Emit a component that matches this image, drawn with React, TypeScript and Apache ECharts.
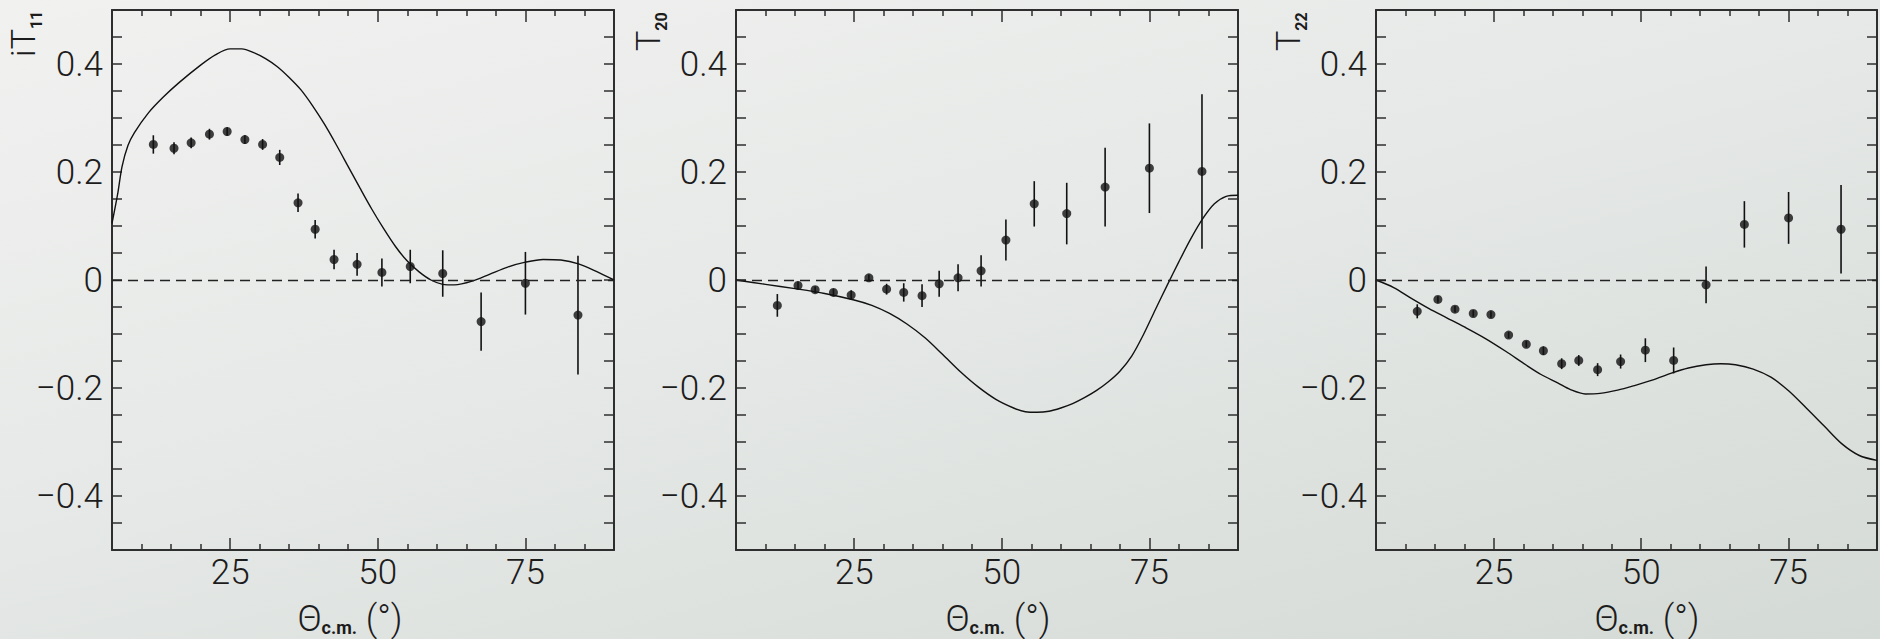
import React, { useEffect, useRef } from "react";
import * as echarts from "echarts";

// ---------- data ----------
// scattering angle of the measured points (same for the three observables)
const thetaCM = [12.0, 15.5, 18.4, 21.5, 24.5, 27.5, 30.5, 33.4, 36.5, 39.4, 42.6, 46.5, 50.7, 55.5, 61.0, 67.5, 75.0, 83.9];

const iT11Values = [0.251, 0.244, 0.254, 0.27, 0.275, 0.26, 0.251, 0.227, 0.143, 0.094, 0.038, 0.029, 0.014, 0.025, 0.012, -0.077, -0.006, -0.065];
const iT11Errors = [0.017, 0.011, 0.01, 0.01, 0.008, 0.008, 0.01, 0.014, 0.017, 0.017, 0.018, 0.021, 0.026, 0.031, 0.043, 0.054, 0.058, 0.11];

const t20Values = [-0.047, -0.01, -0.018, -0.023, -0.028, 0.004, -0.017, -0.023, -0.029, -0.007, 0.004, 0.017, 0.074, 0.141, 0.123, 0.172, 0.207, 0.201];
const t20Errors = [0.021, 0.007, 0.006, 0.007, 0.009, 0.006, 0.01, 0.017, 0.021, 0.024, 0.025, 0.029, 0.038, 0.042, 0.057, 0.073, 0.083, 0.143];

const t22Values = [-0.058, -0.036, -0.054, -0.062, -0.064, -0.102, -0.119, -0.131, -0.155, -0.149, -0.166, -0.151, -0.13, -0.149, -0.009, 0.103, 0.115, 0.094];
const t22Errors = [0.013, 0.006, 0.006, 0.006, 0.006, 0.006, 0.006, 0.008, 0.01, 0.01, 0.012, 0.013, 0.022, 0.024, 0.034, 0.043, 0.048, 0.082];

// theoretical curves
const iT11CurveTheta = [5, 6.0, 6.7, 7.7, 8.8, 11.2, 13.6, 16.4, 20, 22.5, 25, 27, 29, 31, 33, 35, 37, 39, 41, 43, 45, 47, 49, 51, 53, 55, 57, 59, 61, 63, 66, 69, 72, 75, 78, 81, 84, 87, 90];
const iT11CurveValues = [0.105, 0.162, 0.21, 0.249, 0.273, 0.31, 0.338, 0.366, 0.398, 0.417, 0.428, 0.428, 0.421, 0.41, 0.395, 0.375, 0.352, 0.322, 0.288, 0.25, 0.21, 0.17, 0.131, 0.095, 0.062, 0.035, 0.015, 0.0, -0.008, -0.009, -0.002, 0.011, 0.024, 0.033, 0.038, 0.037, 0.03, 0.016, 0.0];

const t20CurveTheta = [5, 10, 15, 20, 25, 28, 31, 34, 37, 40, 43, 46, 49, 52, 54, 56, 58, 60, 62, 64, 66, 68, 70, 72, 74, 76, 78, 80, 82, 84, 86, 88, 90];
const t20CurveValues = [0, -0.008, -0.016, -0.025, -0.037, -0.047, -0.062, -0.082, -0.107, -0.138, -0.17, -0.198, -0.221, -0.237, -0.244, -0.245, -0.243, -0.237, -0.229, -0.218, -0.205, -0.189, -0.169, -0.141, -0.101, -0.055, -0.01, 0.034, 0.076, 0.113, 0.141, 0.155, 0.157];

const t22CurveTheta = [5, 8, 11, 14, 17, 20, 23.5, 27, 30.4, 33, 35.9, 38, 40.5, 43, 46, 49, 52, 55, 58, 61, 63.5, 66, 69, 72, 75, 78, 81, 84, 87, 90];
const t22CurveValues = [0, -0.014, -0.034, -0.053, -0.07, -0.087, -0.108, -0.132, -0.157, -0.175, -0.191, -0.203, -0.211, -0.21, -0.204, -0.195, -0.185, -0.173, -0.163, -0.157, -0.155, -0.157, -0.165, -0.18, -0.205, -0.237, -0.27, -0.303, -0.325, -0.334];

// axes
const xMajorTicks = [25, 50, 75];
const xMinorTicks = [10, 15, 20, 30, 35, 40, 45, 55, 60, 65, 70, 80, 85];
const yTickLabels = [-0.4, -0.2, 0, 0.2, 0.4];
const yTicks = [-0.45, -0.4, -0.35, -0.3, -0.25, -0.2, -0.15, -0.1, -0.05, 0, 0.05, 0.1, 0.15, 0.2, 0.25, 0.3, 0.35, 0.4, 0.45];

// ---------- styling ----------
const FONT = 'Roboto, "Liberation Sans", sans-serif';
const AXIS_COLOR = "#2e2e2e";
const INK = "#111111";
const LABEL_COLOR = "#1c1c1c";

const panels = [
  { left: 112, width: 502, values: iT11Values, errors: iT11Errors, cx: iT11CurveTheta, cy: iT11CurveValues, name: "{t|iT}{s|11}", nameGap: -47, namePad: 68, titleX: 350 },
  { left: 736, width: 502, values: t20Values, errors: t20Errors, cx: t20CurveTheta, cy: t20CurveValues, name: "{t|T}{s|20}", nameGap: -41, namePad: 67, titleX: 998 },
  { left: 1376, width: 501, values: t22Values, errors: t22Errors, cx: t22CurveTheta, cy: t22CurveValues, name: "{t|T}{s|22}", nameGap: -41, namePad: 67, titleX: 1647 },
];

const fmtY = (v: number) => {
  if (Math.abs(v) < 1e-9) return "0";
  return (v < 0 ? "\u2212" : "") + Math.abs(v).toFixed(1);
};

function buildOption() {
  const grid: any[] = [];
  const xAxis: any[] = [];
  const yAxis: any[] = [];
  const series: any[] = [];
  const graphic: any[] = [];

  const tickStyle = { color: AXIS_COLOR, width: 1.5 };
  const lineStyle = { color: AXIS_COLOR, width: 2 };
  const labelStyle = { fontSize: 35, color: LABEL_COLOR, fontFamily: FONT, fontWeight: 300 };

  panels.forEach((p, i) => {
    grid.push({ left: p.left, top: 10, width: p.width, height: 540, containLabel: false });

    const baseX = {
      type: "value",
      gridIndex: i,
      min: 5,
      max: 90,
      splitLine: { show: false },
      axisLine: { show: true, onZero: false, lineStyle },
    };
    xAxis.push({
      ...baseX,
      position: "bottom",
      axisTick: { show: true, inside: true, length: 12, customValues: xMajorTicks, lineStyle: tickStyle },
      axisLabel: { show: true, customValues: xMajorTicks, margin: 5, ...labelStyle },
    });
    xAxis.push({
      ...baseX,
      position: "bottom",
      axisLine: { show: false, onZero: false },
      axisTick: { show: true, inside: true, length: 6, customValues: xMinorTicks, lineStyle: tickStyle },
      axisLabel: { show: false },
    });
    xAxis.push({
      ...baseX,
      position: "top",
      axisTick: { show: true, inside: true, length: 12, customValues: xMajorTicks, lineStyle: tickStyle },
      axisLabel: { show: false },
    });
    xAxis.push({
      ...baseX,
      position: "top",
      axisLine: { show: false, onZero: false },
      axisTick: { show: true, inside: true, length: 6, customValues: xMinorTicks, lineStyle: tickStyle },
      axisLabel: { show: false },
    });

    const baseY = {
      type: "value",
      gridIndex: i,
      min: -0.5,
      max: 0.5,
      splitLine: { show: false },
      axisLine: { show: true, onZero: false, lineStyle },
      axisTick: { show: true, inside: true, length: 10, customValues: yTicks, lineStyle: tickStyle },
    };
    yAxis.push({
      ...baseY,
      position: "left",
      axisLabel: { show: true, customValues: yTickLabels, margin: 9, formatter: fmtY, ...labelStyle },
      name: p.name,
      nameLocation: "end",
      nameRotate: 90,
      nameGap: p.nameGap,
      nameMoveOverlap: false,
      nameTextStyle: {
        align: "left",
        verticalAlign: "bottom",
        padding: [0, 0, p.namePad, 0],
        rich: {
          t: { fontSize: 34, fontFamily: FONT, fontWeight: 300, color: LABEL_COLOR, lineHeight: 42 },
          s: { fontSize: 16, fontFamily: FONT, fontWeight: "bold", color: LABEL_COLOR, verticalAlign: "bottom" },
        },
      },
    });
    yAxis.push({ ...baseY, position: "right", axisLabel: { show: false } });

    const xi = i * 4;
    const yi = i * 2;

    series.push({
      type: "line",
      xAxisIndex: xi,
      yAxisIndex: yi,
      data: p.cx.map((x, k) => [x, p.cy[k]]),
      smooth: 0.3,
      showSymbol: false,
      symbol: "none",
      lineStyle: { color: INK, width: 1.4 },
      silent: true,
      z: 3,
      markLine: {
        silent: true,
        symbol: "none",
        label: { show: false },
        lineStyle: { color: "#222", width: 1.4, type: [10, 6] },
        data: [{ yAxis: 0 }],
      },
    });

    series.push({
      type: "custom",
      xAxisIndex: xi,
      yAxisIndex: yi,
      data: thetaCM.map((x, k) => [x, p.values[k], p.errors[k]]),
      encode: { x: 0, y: 1 },
      renderItem: (_params: any, api: any) => {
        const x = api.value(0);
        const y = api.value(1);
        const e = api.value(2);
        const a = api.coord([x, y + e]);
        const b = api.coord([x, y - e]);
        return {
          type: "line",
          shape: { x1: a[0], y1: a[1], x2: b[0], y2: b[1] },
          style: { stroke: INK, lineWidth: 1.6 },
        };
      },
      silent: true,
      z: 4,
    });

    series.push({
      type: "scatter",
      xAxisIndex: xi,
      yAxisIndex: yi,
      data: thetaCM.map((x, k) => [x, p.values[k]]),
      symbol: "circle",
      symbolSize: 9,
      itemStyle: { color: INK },
      silent: true,
      z: 5,
    });

    // x axis title
    graphic.push({
      type: "text",
      x: p.titleX,
      y: 619,
      silent: true,
      style: {
        text: "{a|\u0398}{b|c.m.}{a| (\u00b0)}",
        align: "center",
        verticalAlign: "middle",
        rich: {
          a: { fontSize: 36, fontFamily: FONT, fontWeight: 300, fill: LABEL_COLOR, lineHeight: 34 },
          b: { fontSize: 18, fontFamily: FONT, fontWeight: "bold", fill: LABEL_COLOR, verticalAlign: "bottom", lineHeight: 14 },
        },
      },
    });
  });

  return {
    animation: false,
    backgroundColor: "transparent",
    grid,
    xAxis,
    yAxis,
    series,
    graphic,
  };
}

export default function App() {
  const ref = useRef<HTMLDivElement>(null);
  useEffect(() => {
    if (!ref.current) return;
    const chart = echarts.init(ref.current, undefined, { renderer: "svg" });
    chart.setOption(buildOption() as any);
    return () => chart.dispose();
  }, []);
  return (
    <div
      style={{
        position: "absolute",
        left: 0,
        top: 0,
        width: 1880,
        height: 639,
        background: "linear-gradient(165deg, #f1f1f0 0%, #e6e9e7 45%, #d4dad6 100%)",
      }}
    >
      <div ref={ref} style={{ width: 1880, height: 639 }} />
    </div>
  );
}
